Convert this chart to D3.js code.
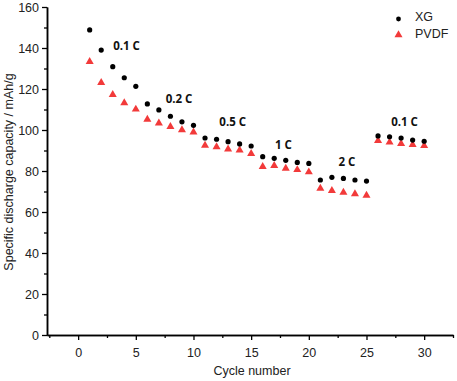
<!DOCTYPE html>
<html><head><meta charset="utf-8">
<script src="https://cdn.jsdelivr.net/npm/d3@7"></script>
<style>body{margin:0;background:#fff}svg{display:block}</style>
</head><body><svg id="c" width="457" height="381"></svg>
<script>
const cycles = d3.range(1, 31);
const xg = [148.8,139,130.9,125.5,121.3,112.7,109.8,106.7,104,102.3,96.1,95.5,94.3,93.2,92.2,87.0,86.2,85.2,84.2,83.7,75.6,76.9,76.4,75.6,75.1,97.1,96.7,96.1,95.1,94.5];
const pvdf = [133.3,123.1,117.2,113.2,110.1,105.2,103.3,101.6,100,98.9,92.5,91.7,90.7,90.2,88.5,82.1,82.6,81.3,80.6,79.5,71.5,70.4,69.6,68.8,68.1,94.8,94,93.3,92.8,92.3];
const xTicks = [0,5,10,15,20,25,30];
const yTicks = [0,20,40,60,80,100,120,140,160];
const rateLabels = ["0.1 C","0.2 C","0.5 C","1 C","2 C","0.1 C"];
const ratePos = [[4.2,140.5],[8.75,114.6],[13.4,103.4],[17.8,92.3],[23.3,84],[28.3,103.3]];
const seriesNames = ["XG","PVDF"];

const svg = d3.select("#c");
const x = d3.scaleLinear().domain([-2.7, 32.5]).range([47, 453]);
const y = d3.scaleLinear().domain([0, 160]).range([335, 7]);
const font = "'Liberation Sans', Arial, sans-serif";

const xa = svg.append("g").attr("transform","translate(0,335)")
  .call(d3.axisBottom(x).tickValues(xTicks).tickSize(5).tickSizeOuter(0));
const xm = svg.append("g").attr("transform","translate(0,335)")
  .call(d3.axisBottom(x).tickValues(d3.range(-2.5,33,5)).tickSize(3).tickFormat("").tickSizeOuter(0));
const ya = svg.append("g").attr("transform","translate(47,0)")
  .call(d3.axisLeft(y).tickValues(yTicks).tickSize(5).tickSizeOuter(0));
const ym = svg.append("g").attr("transform","translate(47,0)")
  .call(d3.axisLeft(y).tickValues(d3.range(10,160,20)).tickSize(3).tickFormat("").tickSizeOuter(0));
[xa,xm,ya,ym].forEach(g=>{
  g.selectAll("path.domain").attr("stroke","#000").attr("stroke-width",1.5);
  g.selectAll(".tick line").attr("stroke","#000").attr("stroke-width",1.3);
  g.selectAll("text").attr("font-family",font).attr("font-size",12.5).attr("fill","#222");
});
xa.selectAll("text").attr("dy","1.1em");

svg.append("text").attr("x",252).attr("y",375).attr("text-anchor","middle")
  .attr("font-family",font).attr("font-size",12.5).attr("fill","#222").text("Cycle number");
svg.append("text").attr("transform","translate(13,172) rotate(-90)").attr("text-anchor","middle")
  .attr("font-family",font).attr("font-size",12.5).attr("fill","#222").text("Specific discharge capacity / mAh/g");

const tri = d3.symbol().type(d3.symbolTriangle).size(28);
svg.append("g").selectAll("path").data(cycles).join("path")
  .attr("d", tri).attr("transform",(c,i)=>`translate(${x(c)},${y(pvdf[i])})`).attr("fill","#f23a3a");
svg.append("g").selectAll("circle").data(cycles).join("circle")
  .attr("cx",c=>x(c)).attr("cy",(c,i)=>y(xg[i])).attr("r",2.6).attr("fill","#000");

svg.append("g").selectAll("text").data(rateLabels).join("text")
  .attr("x",(d,i)=>x(ratePos[i][0])).attr("y",(d,i)=>y(ratePos[i][1])).attr("text-anchor","middle")
  .attr("dominant-baseline","middle")
  .attr("font-family","'Open Sans', sans-serif").attr("font-weight","bold").attr("font-size",11.5).attr("fill","#111")
  .text(d=>d);

const lg = svg.append("g");
lg.append("circle").attr("cx",398.5).attr("cy",19).attr("r",2.4).attr("fill","#000");
lg.append("path").attr("d",tri).attr("transform","translate(398.5,35)").attr("fill","#f23a3a");
lg.selectAll("text").data(seriesNames).join("text")
  .attr("x",415).attr("y",(d,i)=>18+i*16.5).attr("dominant-baseline","middle")
  .attr("font-family",font).attr("font-size",12.5).attr("fill","#222").text(d=>d);
</script></body></html>
